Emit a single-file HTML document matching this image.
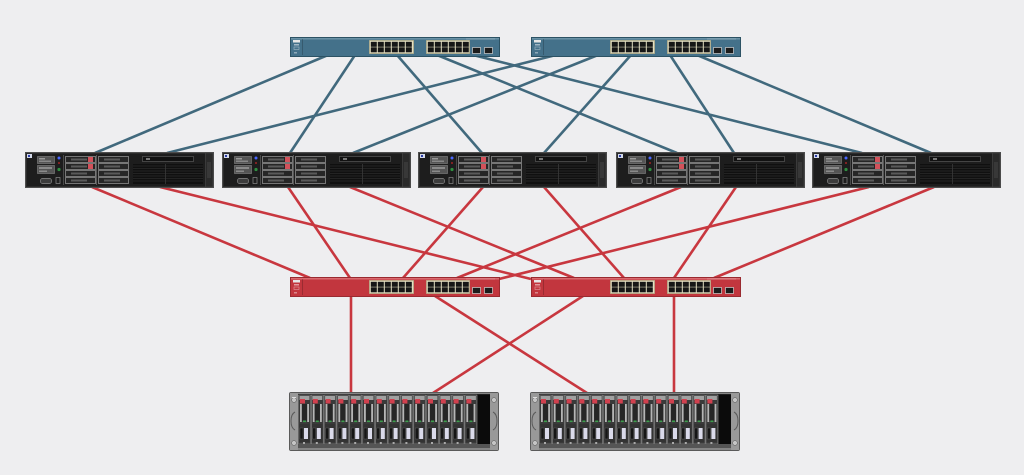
<!DOCTYPE html>
<html>
<head>
<meta charset="utf-8">
<style>
html,body{margin:0;padding:0;background:#eeeef0;}
svg{display:block;}
</style>
</head>
<body>
<svg width="1024" height="475" viewBox="0 0 1024 475" xmlns="http://www.w3.org/2000/svg">
<defs>
  <g id="ports">
    <rect x="79.5" y="3.5" width="44" height="13" fill="#e4dfc2" stroke="#b7b08a" stroke-width="0.8"/>
    <g fill="#161616">
      <rect x="80.8" y="4.8" width="6" height="5"/><rect x="87.8" y="4.8" width="6" height="5"/><rect x="94.8" y="4.8" width="6" height="5"/><rect x="101.8" y="4.8" width="6" height="5"/><rect x="108.8" y="4.8" width="6" height="5"/><rect x="115.8" y="4.8" width="6" height="5"/>
      <rect x="80.8" y="10.3" width="6" height="5"/><rect x="87.8" y="10.3" width="6" height="5"/><rect x="94.8" y="10.3" width="6" height="5"/><rect x="101.8" y="10.3" width="6" height="5"/><rect x="108.8" y="10.3" width="6" height="5"/><rect x="115.8" y="10.3" width="6" height="5"/>
    </g>
    <rect x="136.5" y="3.5" width="43" height="13" fill="#e4dfc2" stroke="#b7b08a" stroke-width="0.8"/>
    <g fill="#161616">
      <rect x="137.8" y="4.8" width="6" height="5"/><rect x="144.8" y="4.8" width="6" height="5"/><rect x="151.8" y="4.8" width="6" height="5"/><rect x="158.8" y="4.8" width="6" height="5"/><rect x="165.8" y="4.8" width="6" height="5"/><rect x="172.8" y="4.8" width="6" height="5"/>
      <rect x="137.8" y="10.3" width="6" height="5"/><rect x="144.8" y="10.3" width="6" height="5"/><rect x="151.8" y="10.3" width="6" height="5"/><rect x="158.8" y="10.3" width="6" height="5"/><rect x="165.8" y="10.3" width="6" height="5"/><rect x="172.8" y="10.3" width="6" height="5"/>
    </g>
    <rect x="182.5" y="10.5" width="8" height="6" fill="#1c1c1c" stroke="#cfcfcf" stroke-width="0.7"/>
    <rect x="194.5" y="10.5" width="8" height="6" fill="#1c1c1c" stroke="#cfcfcf" stroke-width="0.7"/>
    <rect x="3" y="3" width="7" height="2.5" fill="#e6e6e6"/>
    <rect x="4" y="7" width="5" height="1.5" fill="#ffffff" opacity="0.5"/>
    <rect x="4" y="10" width="5" height="2.5" fill="none" stroke="#ffffff" stroke-opacity="0.5" stroke-width="0.6"/>
    <rect x="4" y="15" width="3" height="1.5" fill="#ffffff" opacity="0.4"/>
    <line x1="12.5" y1="2" x2="12.5" y2="18" stroke="#000" stroke-opacity="0.25" stroke-width="0.8"/>
    <line x1="176" y1="2" x2="205" y2="2" stroke="#fff" stroke-opacity="0.3" stroke-width="0.8"/>
  </g>
  <g id="swb">
    <rect x="0.5" y="0.5" width="209" height="19" fill="#44718a" stroke="#2c5264" stroke-width="1"/>
    <rect x="1" y="1" width="208" height="1.5" fill="#6a92a6"/>
    <use href="#ports"/>
  </g>
  <g id="swr">
    <rect x="0.5" y="0.5" width="209" height="19" fill="#c2363e" stroke="#992a30" stroke-width="1"/>
    <rect x="1" y="1" width="208" height="1.5" fill="#da6a70"/>
    <use href="#ports"/>
  </g>
  <g id="drive">
    <rect x="0.5" y="0.5" width="30" height="6" fill="#262626" stroke="#8c8c8c" stroke-width="0.8"/>
    <rect x="6" y="2.5" width="16" height="2" fill="#5a5a5a"/>
  </g>
  <g id="server">
    <rect x="0.5" y="0.5" width="188" height="35" fill="#1d1d1d" stroke="#4e4e4e" stroke-width="1"/>
    <rect x="1.5" y="1.5" width="186" height="33" fill="none" stroke="#303030" stroke-width="0.8"/>
    <rect x="2" y="2" width="5" height="4" fill="#d3d9ea"/>
    <rect x="3" y="3" width="2" height="2" fill="#2a3ca8"/>
    <rect x="12.5" y="4.5" width="17" height="7" fill="#555" stroke="#7a7a7a" stroke-width="0.7"/>
    <rect x="14" y="6" width="6" height="1.5" fill="#999"/>
    <rect x="14" y="8.5" width="12" height="1.5" fill="#888"/>
    <rect x="12.5" y="13.5" width="17" height="8" fill="#555" stroke="#7a7a7a" stroke-width="0.7"/>
    <rect x="14" y="15" width="13" height="2" fill="#8a8a8a"/>
    <rect x="14" y="18.5" width="8" height="1.5" fill="#8a8a8a"/>
    <rect x="15.5" y="26.5" width="11" height="5" rx="2" fill="#3c3c3c" stroke="#8a8a8a" stroke-width="0.7"/>
    <rect x="31" y="25.5" width="4" height="6" fill="none" stroke="#8a8a8a" stroke-width="0.7"/>
    <circle cx="34" cy="6" r="1.5" fill="#4a67ff"/>
    <circle cx="34" cy="11" r="1" fill="#a02525"/>
    <circle cx="34" cy="17.5" r="1.6" fill="#2f8f40"/>
    <line x1="38.5" y1="3" x2="38.5" y2="33" stroke="#555" stroke-width="0.8"/>
    <use href="#drive" x="40" y="4"/>
    <use href="#drive" x="40" y="11"/>
    <use href="#drive" x="40" y="18"/>
    <use href="#drive" x="40" y="25"/>
    <rect x="63" y="5" width="5" height="5" fill="#d2515a"/>
    <rect x="63" y="12" width="5" height="5" fill="#d2515a"/>
    <line x1="71.5" y1="3" x2="71.5" y2="33" stroke="#666" stroke-width="0.8"/>
    <use href="#drive" x="73" y="4"/>
    <use href="#drive" x="73" y="11"/>
    <use href="#drive" x="73" y="18"/>
    <use href="#drive" x="73" y="25"/>
    <rect x="117.5" y="4.5" width="51" height="5" fill="#111" stroke="#585858" stroke-width="0.7"/>
    <rect x="121" y="6" width="4" height="2" fill="#777"/>
    <rect x="108" y="12" width="70" height="20" fill="#101010"/>
    <g stroke="#2a2a2a" stroke-width="0.7">
      <line x1="108" y1="14" x2="178" y2="14"/><line x1="108" y1="16.5" x2="178" y2="16.5"/><line x1="108" y1="19" x2="178" y2="19"/><line x1="108" y1="21.5" x2="178" y2="21.5"/><line x1="108" y1="24" x2="178" y2="24"/><line x1="108" y1="26.5" x2="178" y2="26.5"/><line x1="108" y1="29" x2="178" y2="29"/>
    </g>
    <line x1="140.5" y1="12" x2="140.5" y2="32" stroke="#3a3a3a" stroke-width="0.8"/>
    <rect x="180.5" y="1" width="7.5" height="34" fill="#2a2a2a" stroke="#454545" stroke-width="0.7"/>
    <rect x="182" y="10" width="4" height="16" fill="#383838"/>
  </g>
  <g id="bay">
    <rect x="0.5" y="3" width="12" height="49" fill="#3a3a3a" stroke="#8a8a8a" stroke-width="0.6"/>
    <rect x="1.5" y="4" width="10" height="4" fill="#a0a0a0"/>
    <rect x="2" y="7" width="5" height="4.5" fill="#d1404e"/>
    <rect x="2" y="12" width="1.8" height="18" fill="#b5b5b5"/>
    <rect x="9.2" y="12" width="1.8" height="18" fill="#b5b5b5"/>
    <rect x="4" y="12" width="5" height="17" fill="#262626"/>
    <rect x="5" y="28.5" width="3" height="1.6" fill="#3c9e4c"/>
    <rect x="1.5" y="32" width="10" height="18" fill="#333"/>
    <rect x="2" y="36" width="3" height="11" fill="#151515" stroke="#666" stroke-width="0.4"/>
    <rect x="6" y="36" width="4" height="11" fill="#dadaea"/>
    <rect x="5" y="50" width="2" height="2" fill="#aaa"/>
  </g>
  <g id="storage">
    <rect x="0.5" y="0.5" width="209" height="58" rx="1.5" fill="#858585" stroke="#5a5a5a" stroke-width="1"/>
    <rect x="9" y="2" width="193" height="54" fill="#1f1f1f"/>
    <rect x="1" y="1" width="8" height="57" fill="#999"/>
    <circle cx="5" cy="8" r="2.4" fill="#c5c5c5" stroke="#666" stroke-width="0.6"/>
    <circle cx="5" cy="51" r="2.4" fill="#c5c5c5" stroke="#666" stroke-width="0.6"/>
    <rect x="3" y="5" width="4" height="1" fill="#ddd"/>
    <path d="M6 20 Q2 22 2 29 Q2 36 6 38" fill="none" stroke="#5a5a5a" stroke-width="1"/>
    <use href="#bay" x="9"/>
    <use href="#bay" x="21.8"/>
    <use href="#bay" x="34.6"/>
    <use href="#bay" x="47.4"/>
    <use href="#bay" x="60.2"/>
    <use href="#bay" x="73"/>
    <use href="#bay" x="85.8"/>
    <use href="#bay" x="98.6"/>
    <use href="#bay" x="111.4"/>
    <use href="#bay" x="124.2"/>
    <use href="#bay" x="137"/>
    <use href="#bay" x="149.8"/>
    <use href="#bay" x="162.6"/>
    <use href="#bay" x="175.4"/>
    <rect x="189" y="3" width="13" height="49" fill="#0b0b0b"/>
    <rect x="9" y="52" width="193" height="4" fill="#555"/>
    <rect x="201" y="1" width="8" height="57" fill="#999"/>
    <circle cx="205" cy="8" r="2.4" fill="#c5c5c5" stroke="#666" stroke-width="0.6"/>
    <circle cx="205" cy="51" r="2.4" fill="#c5c5c5" stroke="#666" stroke-width="0.6"/>
    <path d="M204 20 Q208 22 208 29 Q208 36 204 38" fill="none" stroke="#5a5a5a" stroke-width="1"/>
  </g>
</defs>

<!-- blue links -->
<g stroke="#41697d" stroke-width="2.6" fill="none">
  <line x1="328" y1="55" x2="95" y2="153"/>
  <line x1="355" y1="55" x2="290" y2="153"/>
  <line x1="397" y1="55" x2="482" y2="153"/>
  <line x1="437" y1="55" x2="677" y2="153"/>
  <line x1="473" y1="55" x2="862" y2="153"/>
  <line x1="556" y1="55" x2="167" y2="153"/>
  <line x1="598" y1="55" x2="353" y2="153"/>
  <line x1="631" y1="55" x2="544" y2="153"/>
  <line x1="670" y1="55" x2="734" y2="153"/>
  <line x1="697" y1="55" x2="931" y2="153"/>
</g>

<!-- red links -->
<g stroke="#c8373f" stroke-width="2.6" fill="none">
  <line x1="92" y1="187" x2="310" y2="278"/>
  <line x1="288" y1="187" x2="350" y2="278"/>
  <line x1="483" y1="187" x2="403" y2="278"/>
  <line x1="681" y1="187" x2="457" y2="278"/>
  <line x1="869" y1="187" x2="499" y2="279"/>
  <line x1="160" y1="187" x2="531" y2="279"/>
  <line x1="350" y1="187" x2="574" y2="278"/>
  <line x1="544" y1="187" x2="624" y2="278"/>
  <line x1="736" y1="187" x2="674" y2="278"/>
  <line x1="934" y1="187" x2="714" y2="278"/>
  <line x1="351" y1="296" x2="351" y2="393"/>
  <line x1="435" y1="296" x2="587" y2="393"/>
  <line x1="583" y1="296" x2="433" y2="393"/>
  <line x1="674" y1="296" x2="674" y2="393"/>
</g>

<!-- top switches -->
<use href="#swb" x="290" y="37"/>
<use href="#swb" x="531" y="37"/>

<!-- servers -->
<use href="#server" x="25" y="152"/>
<use href="#server" x="222" y="152"/>
<use href="#server" x="418" y="152"/>
<use href="#server" x="616" y="152"/>
<use href="#server" x="812" y="152"/>

<!-- red switches -->
<use href="#swr" x="290" y="277"/>
<use href="#swr" x="531" y="277"/>

<!-- storage -->
<use href="#storage" x="289" y="392"/>
<use href="#storage" x="530" y="392"/>
</svg>
</body>
</html>
